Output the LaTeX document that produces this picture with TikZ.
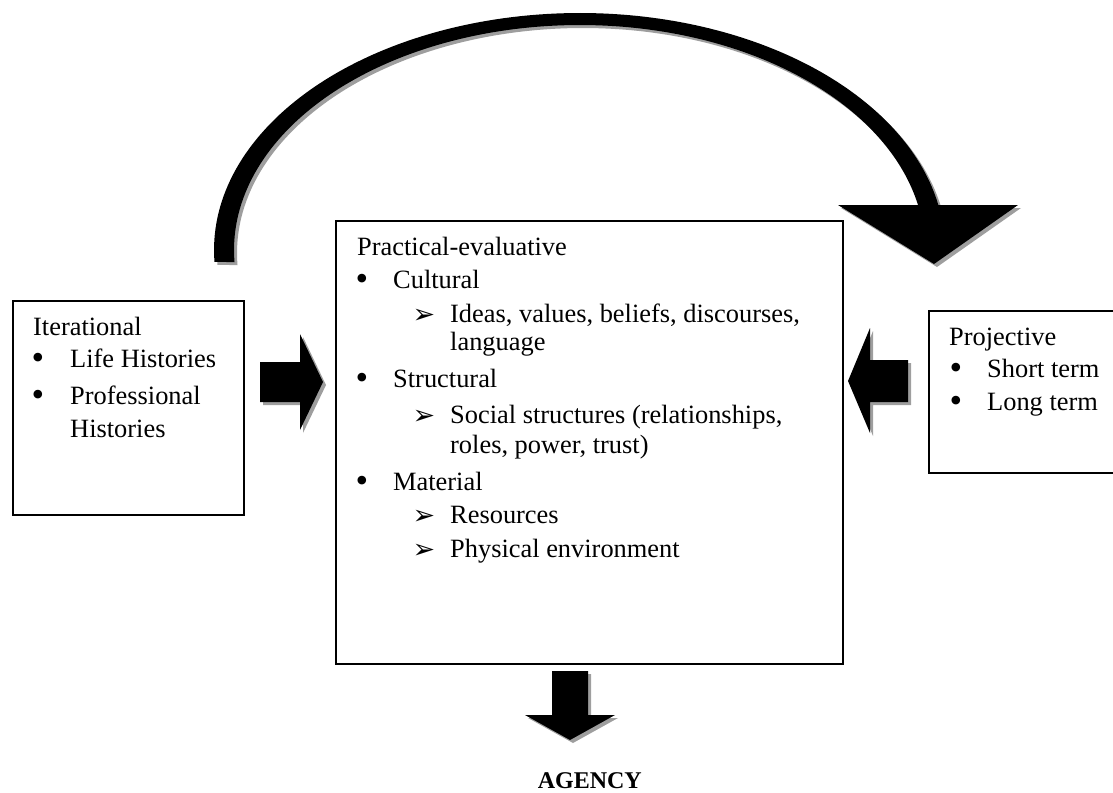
\documentclass[tikz,border=0pt]{standalone}
\usepackage{fontspec}
\setmainfont{Liberation Serif}
\newfontfamily\dejavu{DejaVu Sans}
\begin{document}
\begin{tikzpicture}[x=1pt,y=-1pt,
  box/.style={draw=black, line width=1.5pt, inner sep=0pt, anchor=north west},
  txt/.style={anchor=base west, inner sep=0pt, font=\fontsize{26.4}{30}\selectfont},
  bul/.style={inner sep=0pt, anchor=center, font=\fontsize{36}{36}\selectfont},
  arrb/.style={inner sep=0pt, anchor=center, font=\dejavu\fontsize{27}{27}\selectfont},
  shade/.style={fill=black!38},
  blk/.style={fill=black}
]
\useasboundingbox (0,0) rectangle (1113,792);

% ---------- boxes ----------
\node[box, minimum width=231pt, minimum height=214pt] (iter) at (12,300) {};
\node[box, minimum width=507pt, minimum height=443pt] (main) at (335,220) {};
\node[box, minimum width=190pt, minimum height=162pt] (proj) at (928,310) {};

% ---------- curved arrow (shadow, then black) ----------
\foreach \dx/\st in {3/shade,0/blk}{
  \begin{scope}[shift={(\dx,\dx)}]
    \fill[\st]
      plot[domain=182.9:90, samples=70] ({580+366*cos(\x)},{250-237*sin(\x)})
      -- plot[domain=90:10.95, samples=70] ({580+365*cos(\x)},{250-237*sin(\x)})
      -- plot[domain=11.54:90, samples=70] ({580+345*cos(\x)},{250-225*sin(\x)})
      -- plot[domain=90:183.06, samples=70] ({580+346*cos(\x)},{250-225*sin(\x)})
      -- cycle;
    \fill[\st] (838,205) -- (1018,205) -- (934,264) -- cycle;
  \end{scope}
}

% ---------- block arrows ----------
\foreach \dx/\st in {3/shade,0/blk}{
  \begin{scope}[shift={(\dx,\dx)}]
    % right-pointing (iterational -> main)
    \fill[\st] (260,362) -- (300,362) -- (300,334) -- (323,382) -- (300,430) -- (300,402) -- (260,402) -- cycle;
    % left-pointing (projective -> main)
    \fill[\st] (908,360) -- (870,360) -- (870,328) -- (848,381) -- (870,433) -- (870,402) -- (908,402) -- cycle;
    % downward (main -> agency)
    \fill[\st] (552,671) -- (588,671) -- (588,715) -- (615,715) -- (570,740) -- (525,715) -- (552,715) -- cycle;
  \end{scope}
}

% ---------- left box text ----------
\node[txt] (it0) at (33,335) {Iterational};
\node[bul] (itb1) at (38,361) {\textbullet};
\node[txt] (it1) at (70,367) {Life Histories};
\node[bul] (itb2) at (38,398) {\textbullet};
\node[txt] (it2) at (70,404) {Professional};
\node[txt] (it3) at (70,437) {Histories};

% ---------- main box text ----------
\node[txt] (m0) at (357,255) {Practical-evaluative};
\node[bul] (mb1) at (362,282) {\textbullet};
\node[txt] (m1) at (393,288) {Cultural};
\node[arrb] (ma1) at (424,316) {➢};
\node[txt] (m2) at (450,322) {Ideas, values, beliefs, discourses,};
\node[txt] (m3) at (450,350) {language};
\node[bul] (mb2) at (362,381) {\textbullet};
\node[txt] (m4) at (393,387) {Structural};
\node[arrb] (ma2) at (424,417) {➢};
\node[txt] (m5) at (450,423) {Social structures (relationships,};
\node[txt] (m6) at (450,453) {roles, power, trust)};
\node[bul] (mb3) at (362,484) {\textbullet};
\node[txt] (m7) at (393,490) {Material};
\node[arrb] (ma3) at (424,517) {➢};
\node[txt] (m8) at (450,523) {Resources};
\node[arrb] (ma4) at (424,551) {➢};
\node[txt] (m9) at (450,557) {Physical environment};

% ---------- right box text ----------
\node[txt] (p0) at (949,345) {Projective};
\node[bul] (pb1) at (956,371) {\textbullet};
\node[txt] (p1) at (987,377) {Short term};
\node[bul] (pb2) at (956,404) {\textbullet};
\node[txt] (p2) at (987,410) {Long term};

% ---------- agency ----------
\node[anchor=base east, inner sep=0pt, font=\bfseries\fontsize{24}{28}\selectfont] (agency) at (642,788) {AGENCY};
\end{tikzpicture}
\end{document}
